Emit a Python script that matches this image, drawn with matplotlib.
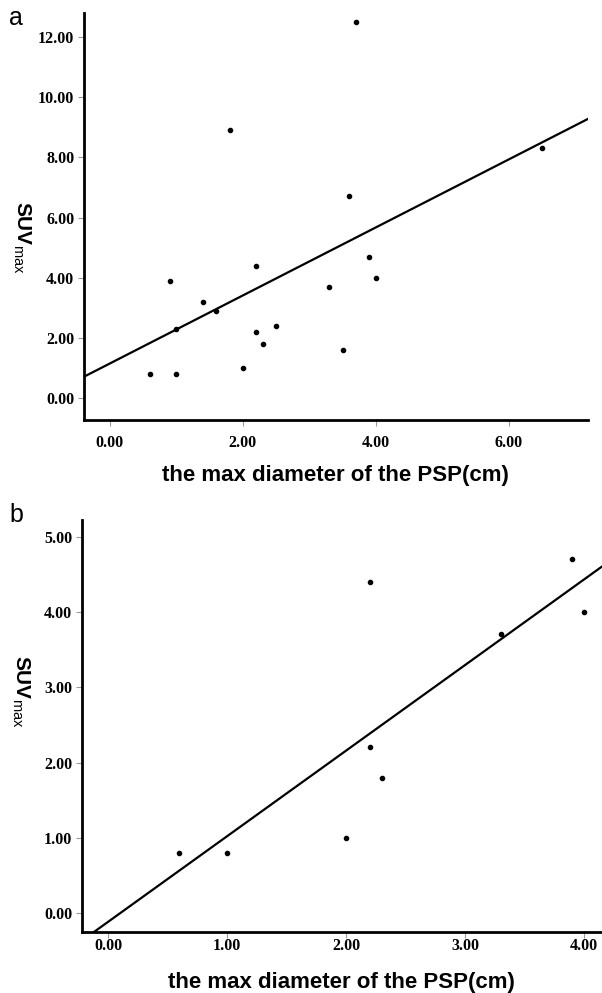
import numpy as np
import matplotlib.pyplot as plt

# panel a: all lesions
diam_a = [0.6, 0.9, 1.0, 1.0, 1.4, 1.6, 1.8, 2.0, 2.2, 2.2, 2.3, 2.5, 3.3, 3.5, 3.6, 3.7, 3.9, 4.0, 6.5]
suv_a = [0.8, 3.9, 0.8, 2.3, 3.2, 2.9, 8.9, 1.0, 4.4, 2.2, 1.8, 2.4, 3.7, 1.6, 6.7, 12.5, 4.7, 4.0, 8.3]

# panel b: subset
diam_b = [0.6, 1.0, 2.0, 2.2, 2.2, 2.3, 3.3, 3.9, 4.0]
suv_b = [0.8, 0.8, 1.0, 2.2, 4.4, 1.8, 3.7, 4.7, 4.0]

xticks_a = [0, 2, 4, 6]
yticks_a = [0, 2, 4, 6, 8, 10, 12]
xticks_b = [0, 1, 2, 3, 4]
yticks_b = [0, 1, 2, 3, 4, 5]

plt.rcParams['mathtext.fontset'] = 'custom'
plt.rcParams['mathtext.rm'] = 'Liberation Sans'
plt.rcParams['mathtext.bf'] = 'Liberation Sans:bold'

fig = plt.figure(figsize=(6.02, 9.93), dpi=100)
ax_a = fig.add_axes([0.1395, 0.577, 0.837, 0.41])
ax_b = fig.add_axes([0.136, 0.0614, 0.864, 0.415])


def draw_panel(ax, x, y, xlim, ylim, xticks, yticks, xpad, xlab_y, ylab_pos):
    x = np.array(x)
    y = np.array(y)
    ax.scatter(x, y, s=9, color='black', zorder=3)
    k, b = np.polyfit(x, y, 1)
    xs = np.array(xlim)
    ax.plot(xs, k * xs + b, color='black', lw=1.6)
    ax.set_xlim(xlim)
    ax.set_ylim(ylim)
    ax.set_xticks(xticks)
    ax.set_yticks(yticks)
    ax.set_xticklabels(['%.2f' % t for t in xticks])
    ax.set_yticklabels(['%.2f' % t for t in yticks])
    for lab in ax.get_xticklabels() + ax.get_yticklabels():
        lab.set_fontfamily('Liberation Serif')
        lab.set_fontweight('bold')
        lab.set_fontsize(11.5)
    ax.tick_params(length=4, width=0.8, color='#999999')
    ax.tick_params(axis='x', pad=xpad)
    ax.tick_params(axis='y', pad=3)
    ax.spines['top'].set_visible(False)
    ax.spines['right'].set_visible(False)
    ax.spines['left'].set_linewidth(2)
    ax.spines['bottom'].set_linewidth(2)
    ax.set_xlabel('the max diameter of the PSP(cm)', fontfamily='Liberation Sans',
                  fontweight='bold', fontsize=16, va='center')
    ax.xaxis.set_label_coords(0.5, xlab_y)
    ax.set_ylabel(r'$\mathbf{SUV}_{\mathrm{max}}$', fontsize=15, rotation=270,
                  va='center', ha='center')
    ax.yaxis.set_label_coords(*ylab_pos)


draw_panel(ax_a, diam_a, suv_a, (-0.39, 7.19), (-0.73, 12.8), xticks_a, yticks_a,
           7, -0.135, (-0.123, 0.45))
draw_panel(ax_b, diam_b, suv_b, (-0.22, 4.15), (-0.25, 5.22), xticks_b, yticks_b,
           0, -0.122, (-0.118, 0.583))

fig.text(0.015, 0.982, 'a', fontfamily='Liberation Sans', fontsize=18, va='center')
fig.text(0.015, 0.481, 'b', fontfamily='Liberation Sans', fontsize=18, va='center')

fig.savefig('out.png', dpi=100)
